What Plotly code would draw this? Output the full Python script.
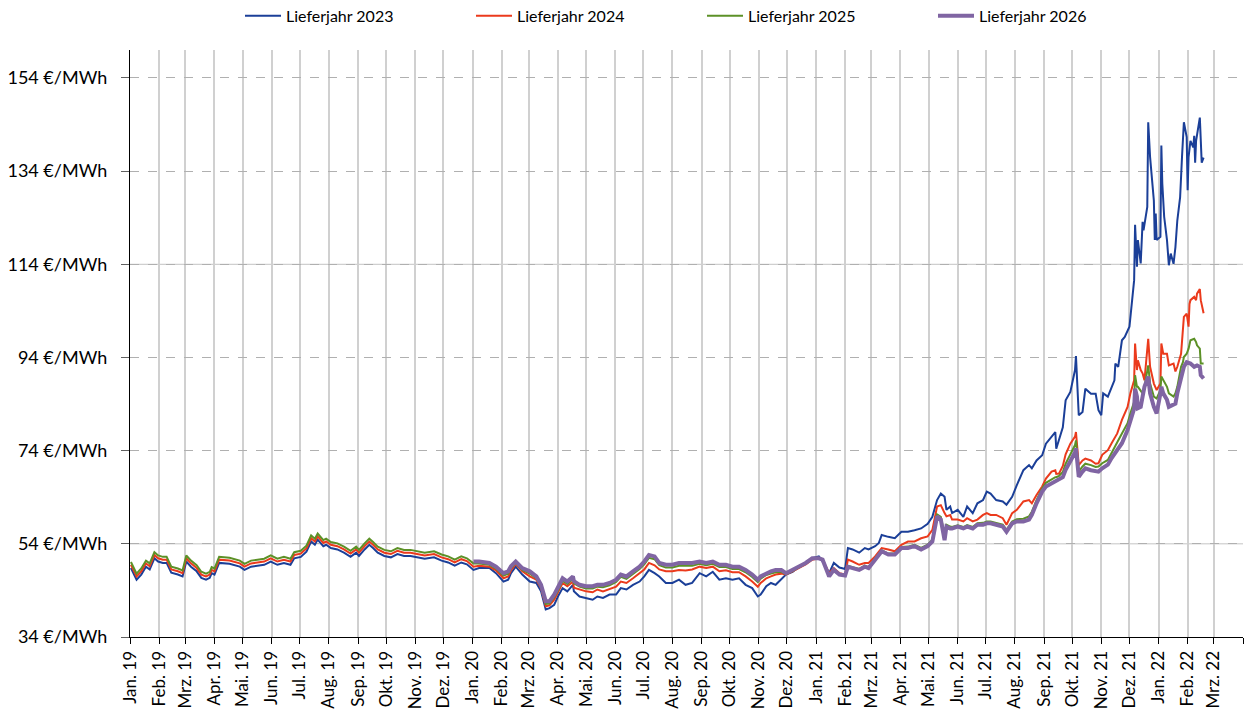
import plotly.graph_objects as go

# ---------------- data ----------------
dates_2019 = ["2019-01-02","2019-01-08","2019-01-13","2019-01-18","2019-01-22","2019-01-27","2019-01-31",
"2019-02-05","2019-02-09","2019-02-14","2019-02-21","2019-02-26","2019-03-02","2019-03-07","2019-03-13",
"2019-03-18","2019-03-23","2019-03-27","2019-03-29","2019-04-01","2019-04-06","2019-04-17","2019-04-28",
"2019-05-03","2019-05-10","2019-05-17","2019-05-24","2019-05-31","2019-06-07","2019-06-14","2019-06-21",
"2019-06-25","2019-07-02","2019-07-08","2019-07-13","2019-07-17","2019-07-20","2019-07-26","2019-07-29",
"2019-08-03","2019-08-10","2019-08-17","2019-08-24","2019-08-30","2019-09-02","2019-09-08","2019-09-13",
"2019-09-17","2019-09-22","2019-09-29","2019-10-06","2019-10-13","2019-10-20","2019-10-27","2019-11-04",
"2019-11-11","2019-11-21","2019-11-29","2019-12-06","2019-12-13","2019-12-20","2019-12-26"]

dates_2020 = ["2020-01-02","2020-01-08","2020-01-19","2020-01-26","2020-02-03","2020-02-08","2020-02-11",
"2020-02-16","2020-02-23","2020-03-02","2020-03-09","2020-03-14","2020-03-19","2020-03-23","2020-03-28",
"2020-04-01","2020-04-06","2020-04-11","2020-04-17","2020-04-18","2020-04-24","2020-05-01","2020-05-08",
"2020-05-13","2020-05-19","2020-05-26","2020-06-02","2020-06-07","2020-06-13","2020-06-20","2020-06-27",
"2020-07-02","2020-07-07","2020-07-13","2020-07-18","2020-07-25","2020-08-01","2020-08-08","2020-08-15",
"2020-08-22","2020-08-30","2020-09-06","2020-09-13","2020-09-20","2020-09-27","2020-10-04","2020-10-11",
"2020-10-18","2020-10-25","2020-10-31","2020-11-03","2020-11-09","2020-11-14","2020-11-19","2020-11-25",
"2020-11-30","2020-12-07","2020-12-14","2020-12-21","2020-12-28"]

dates_2021 = ["2021-01-04","2021-01-08","2021-01-15","2021-01-20","2021-01-26","2021-02-01","2021-02-04",
"2021-02-09","2021-02-16","2021-02-22","2021-02-26","2021-03-05","2021-03-09","2021-03-12","2021-03-19",
"2021-03-26","2021-04-02","2021-04-09","2021-04-16","2021-04-23","2021-04-30","2021-05-05","2021-05-10",
"2021-05-14","2021-05-18","2021-05-20","2021-05-24","2021-05-26","2021-06-01","2021-06-07","2021-06-11",
"2021-06-17","2021-06-22","2021-06-28","2021-07-02","2021-07-06","2021-07-12","2021-07-19","2021-07-23",
"2021-07-29","2021-08-03","2021-08-10","2021-08-16","2021-08-19","2021-08-24","2021-08-30","2021-09-03",
"2021-09-09","2021-09-13","2021-09-14","2021-09-17","2021-09-21","2021-09-24","2021-09-29","2021-10-04",
"2021-10-05","2021-10-08","2021-10-12","2021-10-15","2021-10-21","2021-10-26"]

dates_late_2023 = ["2021-10-29","2021-11-01","2021-11-03","2021-11-08","2021-11-11","2021-11-15","2021-11-16",
"2021-11-19","2021-11-23","2021-11-26","2021-12-01","2021-12-03","2021-12-06","2021-12-07","2021-12-09",
"2021-12-10","2021-12-13","2021-12-15","2021-12-16","2021-12-20","2021-12-21","2021-12-23","2021-12-27",
"2021-12-28","2021-12-29","2021-12-30","2022-01-03","2022-01-04","2022-01-05","2022-01-07","2022-01-10",
"2022-01-12","2022-01-14","2022-01-17","2022-01-19","2022-01-21","2022-01-24","2022-01-26","2022-01-28",
"2022-01-31","2022-02-01","2022-02-02","2022-02-04","2022-02-07","2022-02-08","2022-02-09","2022-02-10",
"2022-02-14","2022-02-16","2022-02-18"]

dates_late = ["2021-10-29","2021-11-02","2021-11-08","2021-11-12","2021-11-18","2021-11-23","2021-11-29",
"2021-12-02","2021-12-06","2021-12-07","2021-12-09","2021-12-10","2021-12-13","2021-12-15","2021-12-17",
"2021-12-21","2021-12-23","2021-12-27","2021-12-30","2022-01-03","2022-01-04","2022-01-06","2022-01-10",
"2022-01-12","2022-01-17","2022-01-19","2022-01-21","2022-01-25","2022-01-27","2022-01-28","2022-01-31",
"2022-02-02","2022-02-03","2022-02-04","2022-02-08","2022-02-10","2022-02-11","2022-02-14","2022-02-15",
"2022-02-18"]

# Lieferjahr 2023
y2023_2019 = [48.8,46.3,47.4,49.1,48.5,50.9,50.2,49.9,49.9,47.8,47.4,47.0,50.2,49.1,48.1,46.7,46.3,46.7,47.7,47.4,
49.9,49.7,49.1,48.4,49.1,49.3,49.5,50.2,49.5,49.9,49.5,50.9,51.2,52.3,54.5,53.8,54.9,53.5,53.8,53.1,52.8,52.1,
51.2,52.1,51.4,52.8,53.8,53.1,52.1,51.4,51.1,51.8,51.4,51.4,51.1,50.8,51.1,50.4,50.0,49.3,50.0,49.6]
y2023_2020 = [48.4,48.8,48.8,47.7,45.9,46.3,47.7,49.1,47.4,45.9,45.6,43.8,39.9,40.2,40.9,42.7,44.5,43.8,45.2,43.8,
42.7,42.4,42.0,42.7,42.4,43.1,43.1,44.5,44.2,45.2,45.9,47.0,48.4,47.7,47.0,45.6,45.6,46.3,45.2,45.6,47.7,47.0,
48.0,46.3,46.6,46.3,46.6,45.2,44.5,42.7,43.1,44.9,45.6,45.2,46.3,47.4,48.0,49.1,49.9,50.9]
y2023_2021 = [51.3,50.2,47.7,49.9,48.9,48.6,53.1,52.8,52.1,53.1,52.8,53.5,54.2,55.9,55.5,55.2,56.6,56.6,56.9,57.3,
58.3,59.8,63.4,64.8,64.1,61.3,62.0,60.6,61.3,59.8,62.0,60.6,62.7,63.4,65.2,64.8,63.4,63.1,62.4,64.1,66.6,69.8,
70.9,70.2,71.9,73.0,75.5,76.9,78.0,74.4,76.2,79.0,84.8,86.6,91.3,94.3,81.6,82.3,87.3,86.2,86.2]
y2023_late = [82.7,81.6,86.3,85.6,87.0,89.1,92.7,92.0,97.7,98.4,100.6,104.9,110.6,122.5,113.5,119.2,114.2,123.1,
121.3,126.3,144.5,137.0,127.7,119.2,124.9,119.2,119.9,139.5,131.4,124.2,119.2,113.8,116.3,114.1,117.7,123.4,
128.4,137.0,144.5,141.3,129.9,137.0,140.5,139.1,141.6,135.8,140.5,145.5,135.8,136.9]

# Lieferjahr 2024
y2024_2019 = [49.5,47.0,48.1,49.8,49.2,51.6,50.9,50.6,50.6,48.5,48.1,47.7,50.9,49.8,48.8,47.4,47.0,47.4,48.4,48.1,
50.6,50.4,49.8,49.1,49.8,50.0,50.2,50.9,50.2,50.6,50.2,51.6,51.9,53.0,55.2,54.5,55.6,54.2,54.5,53.8,53.5,52.8,
51.9,52.8,52.1,53.5,54.5,53.8,52.8,52.1,51.8,52.5,52.1,52.1,51.8,51.5,51.8,51.1,50.7,50.0,50.7,50.3]
y2024_2020 = [49.1,49.3,49.1,48.3,46.6,47.0,48.3,49.7,48.1,47.0,46.3,44.5,40.6,40.8,42.0,43.5,45.6,44.9,45.9,44.6,
44.2,43.8,43.6,44.2,43.8,44.3,44.8,45.9,45.6,46.6,47.7,48.5,49.9,49.4,48.5,48.1,48.1,48.4,48.3,48.5,49.1,48.8,
49.1,48.1,48.3,47.9,47.9,47.0,45.9,44.8,45.6,46.6,47.0,47.4,47.6,47.4,48.1,48.9,49.6,50.6]
y2024_2021 = [50.9,50.6,47.7,48.8,47.7,47.4,50.6,50.2,49.5,49.9,49.9,51.3,52.2,53.1,52.8,52.4,53.8,54.5,54.5,55.2,
55.6,57.0,62.0,62.3,60.6,59.9,60.2,59.2,59.2,58.8,59.5,58.8,59.2,60.2,60.6,60.2,60.2,59.5,58.1,60.6,61.3,63.1,
63.4,62.7,64.5,66.3,68.0,69.5,69.8,69.0,69.1,70.7,73.2,75.5,77.0,78.0,70.9,71.9,72.3,71.9,71.2]
y2024_late = [71.3,73.1,74.1,75.6,77.7,80.6,83.4,86.3,89.1,97.0,91.3,93.4,91.3,90.6,89.1,98.0,92.0,88.4,87.0,88.4,
97.0,94.8,94.8,92.3,92.7,91.0,92.0,94.8,100.6,102.7,103.4,100.6,105.5,106.3,107.0,106.3,107.7,108.7,106.3,103.5]

# Lieferjahr 2025
y2025_2019 = [50.1,47.6,48.7,50.4,49.8,52.2,51.5,51.2,51.2,49.1,48.7,48.3,51.5,50.4,49.4,48.0,47.6,48.0,49.0,48.7,
51.2,51.0,50.4,49.7,50.4,50.6,50.8,51.5,50.8,51.2,50.8,52.2,52.5,53.6,55.8,55.1,56.2,54.8,55.1,54.4,54.1,53.4,
52.5,53.4,52.7,54.1,55.1,54.4,53.4,52.7,52.4,53.1,52.7,52.7,52.4,52.1,52.4,51.7,51.3,50.6,51.3,50.9]
y2025_2020 = [49.8,49.8,49.5,48.7,47.2,47.6,48.8,49.9,48.4,47.6,46.6,44.8,41.1,41.2,42.6,44.0,46.1,45.4,46.5,45.5,
44.8,44.4,44.4,44.8,44.7,45.1,45.8,46.9,46.5,47.6,48.6,49.6,51.0,50.7,49.4,48.9,48.9,49.3,49.3,49.3,49.7,49.4,
49.7,49.0,49.0,48.6,48.6,47.9,46.9,45.8,46.5,47.3,47.6,47.9,48.0,47.5,48.2,49.0,49.8,50.8]
y2025_2021 = [51.0,50.7,47.2,48.5,47.5,47.3,49.3,49.0,48.6,49.3,49.0,50.8,51.7,52.6,51.9,51.9,53.3,53.4,53.8,53.1,
53.8,54.9,60.3,59.8,56.0,58.1,57.7,57.6,58.0,57.6,58.0,57.6,58.4,58.5,58.8,58.8,58.5,58.1,57.0,58.8,59.3,59.4,
59.9,60.9,63.4,65.9,67.1,67.9,68.3,68.3,68.6,69.4,71.2,73.2,75.2,76.2,69.5,70.6,71.2,70.9,70.5]
y2025_late = [70.6,71.3,72.0,73.4,75.8,77.7,79.9,82.0,84.5,90.2,87.7,87.7,87.0,86.3,87.7,92.3,88.4,85.6,85.2,87.0,
89.9,89.1,87.7,86.3,85.6,86.3,87.7,92.0,93.0,94.1,94.8,95.9,97.0,97.7,98.0,97.3,96.6,95.9,92.7,92.7]

# Lieferjahr 2026 (starts in 2020)
y2026_2020 = [50.2,50.2,49.9,49.1,47.7,48.1,49.2,50.2,48.8,48.1,47.0,45.2,41.7,41.7,43.1,44.5,46.6,45.9,47.0,46.0,
45.2,44.9,44.9,45.2,45.2,45.6,46.3,47.4,47.0,48.1,49.1,50.2,51.6,51.3,49.9,49.5,49.5,49.9,49.9,49.9,50.2,49.9,
50.2,49.5,49.5,49.1,49.1,48.4,47.4,46.3,47.0,47.7,48.1,48.4,48.4,47.7,48.4,49.1,49.9,50.9]
y2026_2021 = [50.9,50.6,47.0,48.4,47.4,47.2,49.1,48.8,48.4,49.1,48.8,50.6,51.5,52.4,51.7,51.7,53.1,53.1,53.5,52.8,
53.5,54.5,59.9,59.2,54.8,57.7,57.3,57.3,57.7,57.3,57.7,57.3,58.1,58.1,58.4,58.4,58.1,57.7,56.6,58.4,58.8,58.8,
59.2,60.2,62.7,65.2,66.3,67.0,67.3,67.4,67.8,68.3,69.9,71.7,73.6,74.5,68.4,69.5,70.2,69.8,69.5]
y2026_late = [69.5,70.2,71.0,72.4,74.0,75.6,78.4,80.5,83.0,87.3,85.6,83.1,83.4,85.6,87.7,89.9,86.3,83.4,82.0,86.3,
87.7,86.3,84.9,83.4,83.8,84.1,86.3,89.9,91.0,92.0,93.0,92.8,92.7,92.7,92.0,92.3,92.3,92.0,90.2,89.5]

series_names = ["Lieferjahr 2023", "Lieferjahr 2024", "Lieferjahr 2025", "Lieferjahr 2026"]

month_ticks = ["2019-01-01","2019-02-01","2019-03-01","2019-04-01","2019-05-01","2019-06-01","2019-07-01",
"2019-08-01","2019-09-01","2019-10-01","2019-11-01","2019-12-01","2020-01-01","2020-02-01","2020-03-01",
"2020-04-01","2020-05-01","2020-06-01","2020-07-01","2020-08-01","2020-09-01","2020-10-01","2020-11-01",
"2020-12-01","2021-01-01","2021-02-01","2021-03-01","2021-04-01","2021-05-01","2021-06-01","2021-07-01",
"2021-08-01","2021-09-01","2021-10-01","2021-11-01","2021-12-01","2022-01-01","2022-02-01","2022-03-01",
"2022-04-01"]
month_labels = ["Jan. 19","Feb. 19","Mrz. 19","Apr. 19","Mai. 19","Jun. 19","Jul. 19","Aug. 19","Sep. 19",
"Okt. 19","Nov. 19","Dez. 19","Jan. 20","Feb. 20","Mrz. 20","Apr. 20","Mai. 20","Jun. 20","Jul. 20",
"Aug. 20","Sep. 20","Okt. 20","Nov. 20","Dez. 20","Jan. 21","Feb. 21","Mrz. 21","Apr. 21","Mai. 21",
"Jun. 21","Jul. 21","Aug. 21","Sep. 21","Okt. 21","Nov. 21","Dez. 21","Jan. 22","Feb. 22","Mrz. 22",""]

y_ticks = [34, 54, 74, 94, 114, 134, 154]
y_unit = "€/MWh"
solid_grid = [54, 114]

# ---------------- figure ----------------
FONT = "Lato, 'Open Sans', sans-serif"
colors = ["#1B3F98", "#EB3A1C", "#5C9127", "#8065A3"]
widths = [2.0, 2.0, 2.0, 4.0]

xs = [
    dates_2019 + dates_2020 + dates_2021 + dates_late_2023,
    dates_2019 + dates_2020 + dates_2021 + dates_late,
    dates_2019 + dates_2020 + dates_2021 + dates_late,
    dates_2020 + dates_2021 + dates_late,
]
ys = [
    y2023_2019 + y2023_2020 + y2023_2021 + y2023_late,
    y2024_2019 + y2024_2020 + y2024_2021 + y2024_late,
    y2025_2019 + y2025_2020 + y2025_2021 + y2025_late,
    y2026_2020 + y2026_2021 + y2026_late,
]

fig = go.Figure()
for name, x, y, c, w in zip(series_names, xs, ys, colors, widths):
    fig.add_trace(go.Scatter(x=x, y=y, mode="lines", name=name,
                             line=dict(color=c, width=w)))

for v in solid_grid:
    fig.add_shape(type="line", xref="paper", x0=0, x1=1, yref="y", y0=v, y1=v,
                  line=dict(color="#C4C4C4", width=1), layer="below")

fig.update_layout(
    width=1246, height=716,
    margin=dict(l=130, r=3, t=50, b=79, autoexpand=False),
    paper_bgcolor="white", plot_bgcolor="white",
    font=dict(family=FONT, color="#000000"),
    showlegend=True,
    legend=dict(orientation="h", xref="container", yref="container",
                x=0.5634, xanchor="center", y=0.978, yanchor="middle",
                font=dict(size=16, family=FONT), entrywidth=180, entrywidthmode="pixels",
                itemwidth=36, bgcolor="rgba(0,0,0,0)", tracegroupgap=0),
    xaxis=dict(
        type="date", range=["2019-01-01", "2022-04-01"],
        tickmode="array", tickvals=month_ticks, ticktext=month_labels,
        tickangle=-90, tickfont=dict(size=17, family=FONT),
        showgrid=True, gridcolor="#D0D0D0", gridwidth=1.5,
        showline=True, linecolor="#000000", linewidth=1.3,
        ticks="outside", ticklen=6, tickcolor="#000000", tickwidth=1.3,
        zeroline=False, automargin=False,
    ),
    yaxis=dict(
        range=[34, 160], tickmode="array", tickvals=y_ticks,
        ticktext=[f"{v} {y_unit}" for v in y_ticks], tickfont=dict(size=18, family=FONT),
        showgrid=True, gridcolor="#B0B0B0", gridwidth=1, griddash="dash",
        showline=True, linecolor="#000000", linewidth=1.3,
        ticks="outside", ticklen=8, tickcolor="#606060", tickwidth=1.3,
        ticklabelstandoff=10,
        zeroline=False, automargin=False,
    ),
)

fig.write_html("out.html", config={"displayModeBar": False},
               post_script="document.body.style.margin='0';")
